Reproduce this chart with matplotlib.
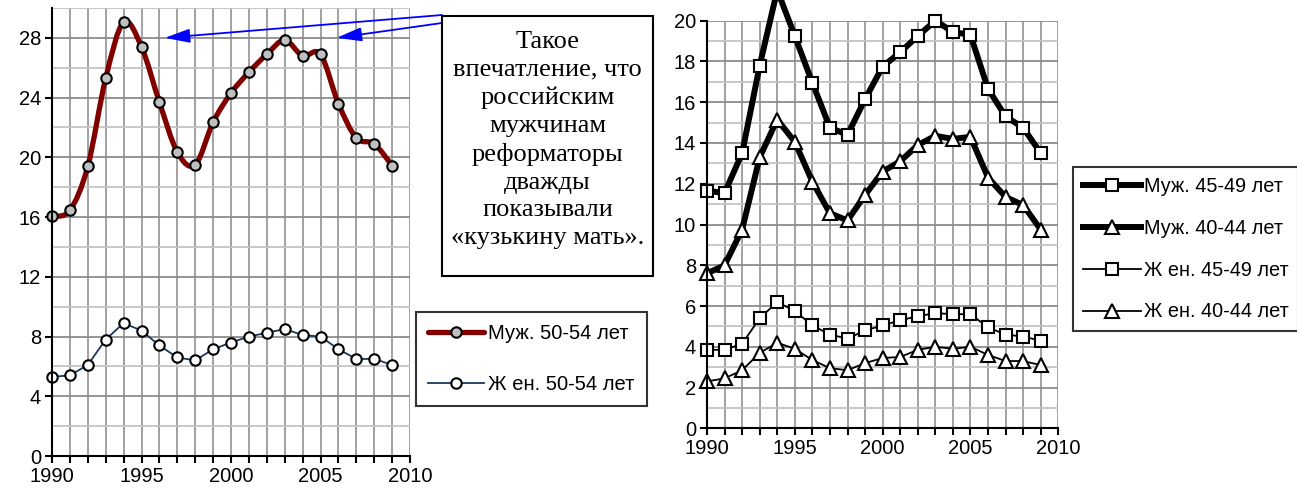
import matplotlib
matplotlib.use("Agg")
import matplotlib.pyplot as plt
from matplotlib.path import Path
from matplotlib.patches import PathPatch, Rectangle
from matplotlib.lines import Line2D
from matplotlib.ticker import MultipleLocator
import numpy as np

plt.rcParams['font.family'] = ['Liberation Sans', 'DejaVu Sans']

years = list(range(1990, 2010))

# Left chart
male_50_54 = [16.05, 16.45, 19.4, 25.3, 29.05, 27.4, 23.7, 20.35, 19.5, 22.35,
              24.3, 25.7, 26.9, 27.85, 26.8, 26.9, 23.6, 21.3, 20.9, 19.45]
female_50_54 = [5.3, 5.4, 6.1, 7.8, 8.9, 8.4, 7.4, 6.6, 6.4, 7.15,
                7.6, 8.0, 8.25, 8.5, 8.1, 8.0, 7.15, 6.5, 6.5, 6.1]

# Right chart
male_45_49 = [11.65, 11.55, 13.5, 17.8, 21.5, 19.25, 16.95, 14.75, 14.4, 16.15,
              17.75, 18.45, 19.25, 20.0, 19.45, 19.3, 16.65, 15.3, 14.75, 13.5]
male_40_44 = [7.6, 8.0, 9.75, 13.3, 15.15, 14.05, 12.1, 10.55, 10.2, 11.45,
              12.6, 13.1, 13.9, 14.35, 14.2, 14.3, 12.3, 11.35, 10.95, 9.75]
female_45_49 = [3.85, 3.85, 4.15, 5.4, 6.2, 5.75, 5.05, 4.6, 4.4, 4.8,
                5.05, 5.3, 5.5, 5.65, 5.6, 5.6, 4.95, 4.6, 4.5, 4.3]
female_40_44 = [2.3, 2.45, 2.85, 3.7, 4.2, 3.9, 3.35, 2.95, 2.85, 3.2,
                3.45, 3.5, 3.85, 4.0, 3.9, 4.0, 3.6, 3.3, 3.3, 3.1]

labels_left = ['Муж. 50-54 лет', 'Ж ен. 50-54 лет']
labels_right = ['Муж. 45-49 лет', 'Муж. 40-44 лет', 'Ж ен. 45-49 лет', 'Ж ен. 40-44 лет']
note = 'Такое\nвпечатление, что\nроссийским\nмужчинам\nреформаторы\nдважды\nпоказывали\n«кузькину мать».'

W, H = 1297, 492
fig = plt.figure(figsize=(W / 100, H / 100), dpi=100)


def fx(px):
    return px / W


def fy(py):
    return 1 - py / H


def smooth_path(x, y):
    p = np.column_stack([x, y]).astype(float)
    n = len(p)
    verts = [p[0]]
    codes = [Path.MOVETO]
    for i in range(n - 1):
        pm = p[i - 1] if i > 0 else p[i]
        p2 = p[i + 2] if i + 2 < n else p[i + 1]
        c1 = p[i] + (p[i + 1] - pm) / 6
        c2 = p[i + 1] - (p2 - p[i]) / 6
        verts += [c1, c2, p[i + 1]]
        codes += [Path.CURVE4] * 3
    return Path(verts, codes)


def style_axes(ax, ymax, ymaj, ymin):
    ax.set_xlim(1990, 2010)
    ax.set_ylim(0, ymax)
    ax.xaxis.set_major_locator(MultipleLocator(5))
    ax.xaxis.set_minor_locator(MultipleLocator(1))
    ax.yaxis.set_major_locator(MultipleLocator(ymaj))
    ax.yaxis.set_minor_locator(MultipleLocator(ymin))
    ax.grid(which='major', axis='y', color='#8c8c8c', lw=1.3)
    ax.grid(which='minor', axis='y', color='#c4c4c4', lw=1.3)
    ax.grid(which='both', axis='x', color='#9a9a9a', lw=1.3)
    ax.set_axisbelow(True)
    for s in ['top', 'right']:
        ax.spines[s].set_visible(False)
    for s in ['left', 'bottom']:
        ax.spines[s].set_linewidth(1.5)
        ax.spines[s].set_zorder(5)
    ax.tick_params(axis='both', which='major', direction='out', length=5, width=1.5,
                   labelsize=14.5, pad=3)
    ax.tick_params(axis='x', which='minor', direction='out', length=5, width=1.5)
    ax.tick_params(axis='y', which='minor', length=0)


# ---------- Left chart ----------
ax1 = fig.add_axes([fx(52), fy(456), fx(410 - 52), (456 - 8) / H])
style_axes(ax1, 30, 4, 2)

male_col = '#800000'
patch = PathPatch(smooth_path(years, male_50_54), fill=False, ec=male_col, lw=3.8,
                  capstyle='round', joinstyle='round', zorder=3)
ax1.add_patch(patch)
ax1.plot(years, male_50_54, ls='none', marker='o', ms=7.5, mfc='#c0c0c0', mec='black',
         mew=1.5, zorder=4, clip_on=False)
fem_col = '#17375e'
ax1.plot(years, female_50_54, color=fem_col, lw=1.3, marker='o', ms=7.5, mfc='white',
         mec='black', mew=1.5, zorder=4, clip_on=False)

h_left = [Line2D([], [], color=male_col, lw=3.8, marker='o', ms=7.5, mfc='#c0c0c0',
                 mec='black', mew=1.5, solid_capstyle='round'),
          Line2D([], [], color=fem_col, lw=1.3, marker='o', ms=7.5, mfc='white',
                 mec='black', mew=1.5)]
leg1 = fig.legend(h_left, labels_left, loc='upper left', bbox_to_anchor=(fx(416), fy(312)),
                  borderaxespad=0, fontsize=14.5, frameon=True, fancybox=False,
                  edgecolor='black', handlelength=2.8, handletextpad=0.2,
                  labelspacing=1.6, borderpad=0.6)
leg1.get_frame().set_linewidth(1.5)

# annotation box
fig.patches.append(Rectangle((fx(442), fy(276)), fx(653 - 442), (276 - 16) / H,
                             transform=fig.transFigure, fill=True, fc='white',
                             ec='black', lw=1.5, zorder=10))
fig.text(fx(547.5), fy(140), note, ha='center', va='center', fontsize=19,
         family=['Liberation Serif', 'DejaVu Serif'], linespacing=1.34, zorder=11)

arrow_kw = dict(arrowstyle='-|>,head_length=0.9,head_width=0.25', color='#0000ff',
                lw=1.3, shrinkA=0, shrinkB=0, mutation_scale=17)
ax1.annotate('', xy=(1996.3, 28), xycoords='data', xytext=(fx(442), fy(15)),
             textcoords='figure fraction', arrowprops=arrow_kw, annotation_clip=False)
ax1.annotate('', xy=(2005.9, 28), xycoords='data', xytext=(fx(442), fy(23)),
             textcoords='figure fraction', arrowprops=arrow_kw, annotation_clip=False)

# ---------- Right chart ----------
ax2 = fig.add_axes([fx(707), fy(428.3), fx(1058.3 - 707), (428.3 - 20.7) / H])
style_axes(ax2, 20, 2, 1)

ax2.plot(years, male_45_49, color='black', lw=4.3, marker='s', ms=9, mfc='white',
         mec='black', mew=1.5, zorder=4, clip_on=False)
ax2.plot(years, male_40_44, color='black', lw=4.3, marker='^', ms=10, mfc='white',
         mec='black', mew=1.5, zorder=4, clip_on=False)
ax2.plot(years, female_45_49, color='black', lw=1.3, marker='s', ms=9, mfc='white',
         mec='black', mew=1.5, zorder=4, clip_on=False)
ax2.plot(years, female_40_44, color='black', lw=1.3, marker='^', ms=10, mfc='white',
         mec='black', mew=1.5, zorder=4, clip_on=False)

h_right = [Line2D([], [], color='black', lw=4.3, marker='s', ms=9, mfc='white', mec='black', mew=1.5),
           Line2D([], [], color='black', lw=4.3, marker='^', ms=10, mfc='white', mec='black', mew=1.5),
           Line2D([], [], color='black', lw=1.3, marker='s', ms=9, mfc='white', mec='black', mew=1.5),
           Line2D([], [], color='black', lw=1.3, marker='^', ms=10, mfc='white', mec='black', mew=1.5)]
leg2 = fig.legend(h_right, labels_right, loc='upper left', bbox_to_anchor=(fx(1073), fy(167)),
                  borderaxespad=0, fontsize=14.3, frameon=True, fancybox=False,
                  edgecolor='black', handlelength=2.9, handletextpad=0.15,
                  labelspacing=1.15, borderpad=0.5)
leg2.get_frame().set_linewidth(1.5)

fig.savefig('out.png', dpi=100)
